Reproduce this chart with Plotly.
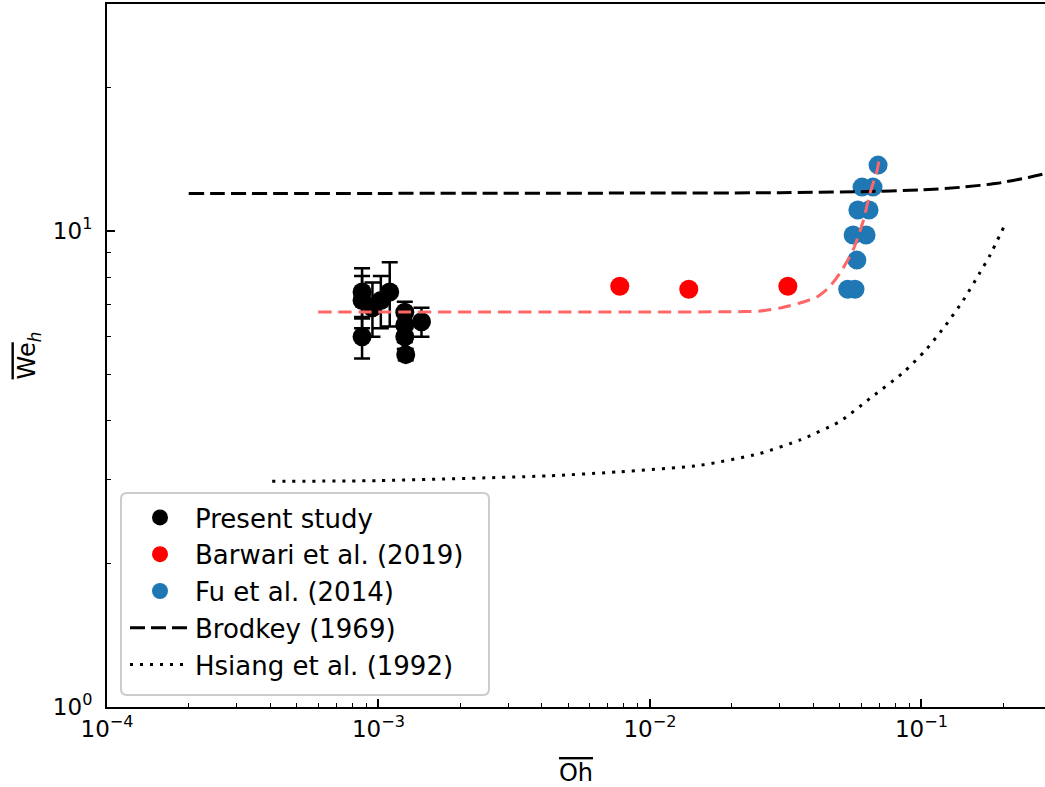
import plotly.graph_objects as go
import numpy as np

# Present study (with error bars)
present_oh = [8.7e-4, 8.7e-4, 8.7e-4, 9.5e-4, 1.02e-3, 1.10e-3, 1.25e-3, 1.25e-3, 1.25e-3, 1.26e-3, 1.44e-3]
present_we = [7.45, 7.15, 6.0, 6.9, 7.15, 7.45, 6.75, 6.35, 6.0, 5.5, 6.45]
present_err = [0.9, 0.9, 0.6, 0.9, 0.9, 1.15, 0.35, 0.5, 0.35, 0.15, 0.45]

# Barwari et al. (2019)
barwari_oh = [7.74e-3, 1.39e-2, 3.22e-2]
barwari_we = [7.66, 7.55, 7.66]

# Fu et al. (2014)
fu_oh = [0.0692, 0.0604, 0.0663, 0.0583, 0.0641, 0.0560, 0.0625, 0.0578, 0.0535, 0.0569]
fu_we = [13.76, 12.37, 12.37, 11.07, 11.07, 9.81, 9.81, 8.69, 7.55, 7.55]

# Brodkey (1969)
brodkey_oh = [2.0e-4, 1e-3, 1e-2, 0.03, 0.06, 0.1, 0.142, 0.19, 0.25, 0.3]
brodkey_we = [12.0, 12.0, 12.02, 12.04, 12.1, 12.2, 12.37, 12.6, 12.98, 13.3]

# Hsiang et al. (1992)
hsiang_oh = [4.06e-4, 1e-3, 4.2e-3, 7.7e-3, 0.0153, 0.0254, 0.0357, 0.05, 0.0646,
             0.0855, 0.103, 0.122, 0.142, 0.164, 0.179, 0.201]
hsiang_we = [2.98, 2.99, 3.06, 3.12, 3.22, 3.41, 3.64, 3.98, 4.45,
             5.04, 5.6, 6.31, 7.13, 8.17, 8.91, 10.2]

# Fitted curve through the data
fit_oh = [6.0e-4, 1e-3, 1e-2, 0.02, 0.0254, 0.0301, 0.0357, 0.0412, 0.0455,
          0.0501, 0.056, 0.061, 0.0646, 0.0686, 0.0703]
fit_we = [6.76, 6.76, 6.76, 6.77, 6.79, 6.89, 7.06, 7.27, 7.6,
          8.16, 9.12, 10.5, 12.0, 13.4, 14.4]

x_major = [1e-4, 1e-3, 1e-2, 1e-1]
x_major_text = ["10<sup>\u22124</sup>", "10<sup>\u22123</sup>", "10<sup>\u22122</sup>", "10<sup>\u22121</sup>"]
y_major = [1, 10]
y_major_text = ["10<sup>0</sup>", "10<sup>1</sup>"]

x_minor = [k * 10.0 ** e for e in range(-4, 0) for k in range(2, 10) if k * 10.0 ** e < 0.28]
y_minor = [k * 10.0 ** e for e in range(0, 2) for k in range(2, 10) if k * 10.0 ** e < 30]

FONT = "DejaVu Sans"
MARKER = 19

fig = go.Figure()

fig.add_trace(go.Scatter(
    x=present_oh, y=present_we, mode="markers", name="Present study",
    marker=dict(color="black", size=MARKER),
    error_y=dict(type="data", array=present_err, visible=True, color="black",
                 thickness=2.5, width=8),
))
fig.add_trace(go.Scatter(
    x=barwari_oh, y=barwari_we, mode="markers", name="Barwari et al. (2019)",
    marker=dict(color="#ff0000", size=MARKER),
))
fig.add_trace(go.Scatter(
    x=fu_oh, y=fu_we, mode="markers", name="Fu et al. (2014)",
    marker=dict(color="#1f77b4", size=MARKER),
))
fig.add_trace(go.Scatter(
    x=brodkey_oh, y=brodkey_we, mode="lines", name="Brodkey (1969)",
    line=dict(color="black", width=3, dash="15px,6px", shape="spline", smoothing=0.6),
))
fig.add_trace(go.Scatter(
    x=hsiang_oh, y=hsiang_we, mode="lines", name="Hsiang et al. (1992)",
    line=dict(color="black", width=3, dash="3px,7px", shape="spline", smoothing=0.6),
))
fig.add_trace(go.Scatter(
    x=fit_oh, y=fit_we, mode="lines", showlegend=False,
    line=dict(color="#ff6666", width=3, dash="13px,7px", shape="spline", smoothing=0.6),
))

W, H = 1045, 787
ML, MR, MT, MB = 107, 0, 4, 80
pw, ph = W - ML - MR, H - MT - MB


def px_to_paper(px, py):
    return (px - ML) / pw, (H - MB - py) / ph


# rounded legend frame
x0, y0 = px_to_paper(121, 695)
x1, y1 = px_to_paper(489, 493)
r = 6
rx, ry = r / pw, r / ph
frame = (f"M {x0+rx},{y0} L {x1-rx},{y0} Q {x1},{y0} {x1},{y0+ry} "
         f"L {x1},{y1-ry} Q {x1},{y1} {x1-rx},{y1} "
         f"L {x0+rx},{y1} Q {x0},{y1} {x0},{y1-ry} "
         f"L {x0},{y0+ry} Q {x0},{y0} {x0+rx},{y0} Z")

fig.update_layout(
    width=W, height=H,
    margin=dict(l=ML, r=MR, t=MT, b=MB),
    paper_bgcolor="white", plot_bgcolor="white",
    font=dict(family=FONT, size=23, color="black"),
    shapes=[dict(type="path", path=frame, xref="paper", yref="paper",
                 line=dict(color="#cccccc", width=2), fillcolor="white", layer="above")],
    legend=dict(
        x=px_to_paper(125, 0)[0], y=px_to_paper(0, 494)[1],
        xanchor="left", yanchor="top",
        bgcolor="rgba(0,0,0,0)", borderwidth=0,
        font=dict(family=FONT, size=26),
        itemsizing="trace", itemwidth=60,
    ),
    xaxis=dict(
        type="log", range=[-4, -0.545],
        showline=True, linecolor="black", linewidth=2, mirror=True,
        ticks="inside", ticklen=8, tickwidth=1.5, tickcolor="black",
        tickmode="array", tickvals=x_major, ticktext=x_major_text,
        minor=dict(tickmode="array", tickvals=x_minor, ticks="inside",
                   ticklen=4, tickwidth=1.2, tickcolor="black", showgrid=False),
        showgrid=False, zeroline=False,
        tickfont=dict(size=23),
        title=dict(text='<span style="text-decoration:overline">Oh</span>',
                   font=dict(size=24), standoff=26),
    ),
    yaxis=dict(
        type="log", range=[0, np.log10(30)],
        showline=True, linecolor="black", linewidth=2, mirror=False,
        ticks="inside", ticklen=8, tickwidth=1.5, tickcolor="black",
        tickmode="array", tickvals=y_major, ticktext=y_major_text,
        minor=dict(tickmode="array", tickvals=y_minor, ticks="inside",
                   ticklen=4, tickwidth=1.2, tickcolor="black", showgrid=False),
        showgrid=False, zeroline=False,
        tickfont=dict(size=23), ticklabelstandoff=8,
        title=dict(text='<span style="text-decoration:overline">We</span><sub><i>h</i></sub>',
                   font=dict(size=24), standoff=10),
    ),
)

fig.write_html("out.html")
